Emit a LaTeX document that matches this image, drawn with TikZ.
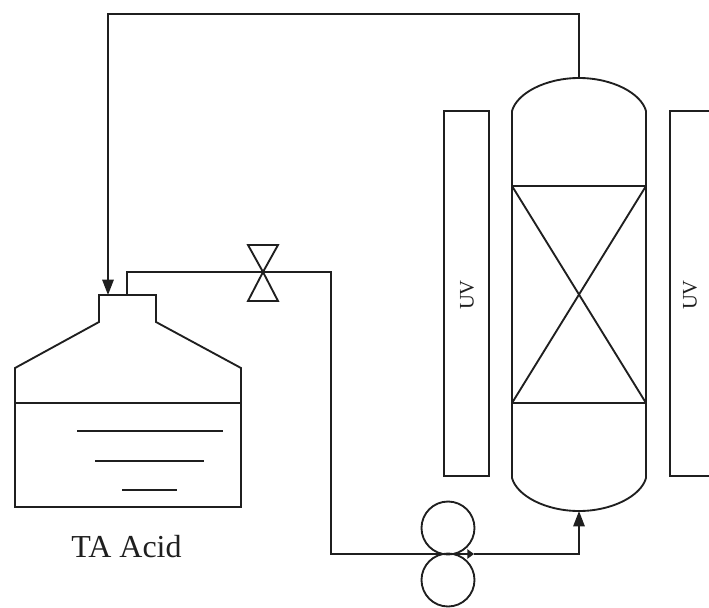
\documentclass[tikz,border=0pt]{standalone}
\usepackage{fontspec}
\setmainfont{Liberation Serif}
\usetikzlibrary{arrows.meta}
\colorlet{ink}{black!88}
\tikzset{
  ln/.style={line width=1.4pt,draw=ink,line join=miter},
  pipe/.style={ln},
  tip/.style={-{Triangle[length=11.5pt,width=8.5pt]}},
  uvlabel/.style={rotate=90,font=\fontsize{15.5}{18}\selectfont,text=ink},
  roller/.style={circle,ln,minimum size=53*0.75pt,inner sep=0pt},
}
\begin{document}
\begin{tikzpicture}[x=0.75pt,y=-0.75pt]
\useasboundingbox (0,0) rectangle (709,607);
% named points
\coordinate (domeTop) at (579,78);
\coordinate (vesselBottom) at (579,511);
\coordinate (neckA) at (108,295);
\coordinate (neckB) at (127,295);
\coordinate (valveC) at (263,272);
% reactor vessel
\draw[ln] (512,111) .. controls (517,93) and (546,78) .. (domeTop)
      .. controls (612,78) and (641,93) .. (646,111)
      -- (646,478) .. controls (641,496) and (612,511) .. (vesselBottom)
      .. controls (546,511) and (517,496) .. (512,478) -- cycle;
\draw[ln] (512,186) rectangle (646,403);
\draw[ln] (512,186) -- (646,403);
\draw[ln] (646,186) -- (512,403);
% UV lamps
\node[ln,draw,minimum width=45*0.75pt,minimum height=365*0.75pt,inner sep=0pt] (uvL) at (466.5,293.5) {};
\node[uvlabel] at (467,295) {UV};
\draw[ln] (709,111) -- (670,111) -- (670,476) -- (709,476);
\node[uvlabel] (uvR) at (690,295) {UV};
% tank
\draw[ln] (15,403) -- (15,368) -- (99,322) -- (99,295) -- (156,295) -- (156,322) -- (241,368) -- (241,403);
\draw[ln] (15,403) -- (15,507) -- (241,507) -- (241,403) -- cycle;
\draw[ln] (77,431) -- (223,431);
\draw[ln] (95,461) -- (204,461);
\draw[ln] (122,490) -- (177,490);
\node[font=\fontsize{24}{28}\selectfont,text=ink] (tankLabel) at (126.5,547) {TA Acid};
% valve
\draw[ln] (valveC) -- (248,245) -- (278,245) -- cycle;
\draw[ln] (valveC) -- (248,301) -- (278,301) -- cycle;
% pump
\node[roller] (pumpT) at (448,528) {};
\node[roller] (pumpB) at (448,580) {};
\coordinate (pumpC) at (448,554);
% pipes
\draw[pipe] (neckB) -- (127,272) -- (331,272) -- (331,554) -- (pumpC);
\draw[pipe,-{Triangle[length=5pt,width=7pt]}] (pumpC) -- (474,554);
\draw[pipe,tip] (474,554) -- (579,554) -- (vesselBottom);
\draw[pipe,tip] (domeTop) -- (579,14) -- (108,14) -- (neckA);
\end{tikzpicture}
\end{document}
